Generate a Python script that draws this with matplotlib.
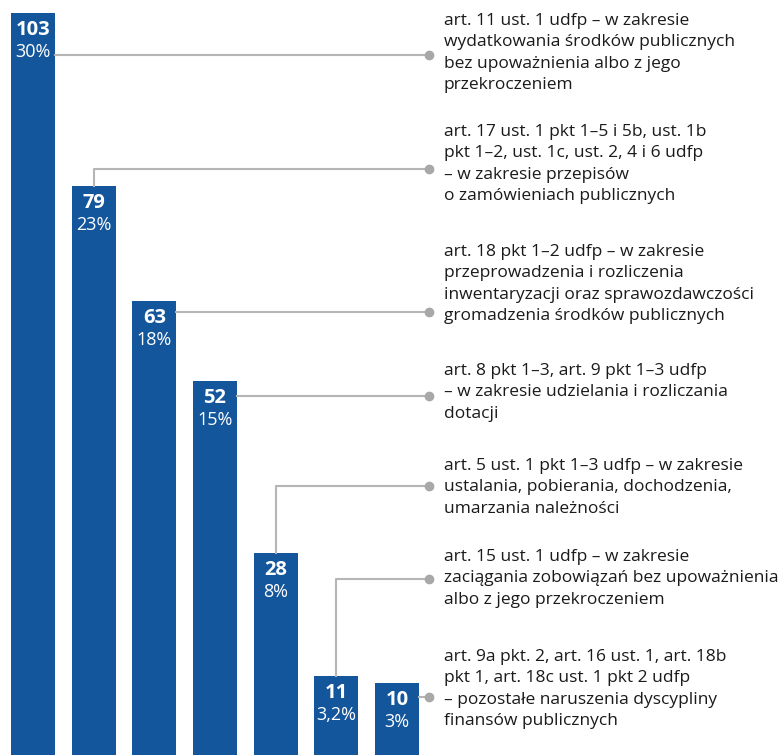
import matplotlib.pyplot as plt
import numpy as np

plt.rcParams['font.family'] = ['Open Sans', 'DejaVu Sans']

# Data
values = [103, 79, 63, 52, 28, 11, 10]
shares = ['30%', '23%', '18%', '15%', '8%', '3,2%', '3%']
labels = [
    'art. 11 ust. 1 udfp – w zakresie\nwydatkowania środków publicznych\nbez upoważnienia albo z jego\nprzekroczeniem',
    'art. 17 ust. 1 pkt 1–5 i 5b, ust. 1b\npkt 1–2, ust. 1c, ust. 2, 4 i 6 udfp\n– w zakresie przepisów\no zamówieniach publicznych',
    'art. 18 pkt 1–2 udfp – w zakresie\nprzeprowadzenia i rozliczenia\ninwentaryzacji oraz sprawozdawczości\ngromadzenia środków publicznych',
    'art. 8 pkt 1–3, art. 9 pkt 1–3 udfp\n– w zakresie udzielania i rozliczania\ndotacji',
    'art. 5 ust. 1 pkt 1–3 udfp – w zakresie\nustalania, pobierania, dochodzenia,\numarzania należności',
    'art. 15 ust. 1 udfp – w zakresie\nzaciągania zobowiązań bez upoważnienia\nalbo z jego przekroczeniem',
    'art. 9a pkt. 2, art. 16 ust. 1, art. 18b\npkt 1, art. 18c ust. 1 pkt 2 udfp\n– pozostałe naruszenia dyscypliny\nfinansów publicznych',
]

# Layout (pixels from top)
W, H = 779, 755
text_top = [13, 124, 244, 363, 458, 549, 649]
dot_y = [55, 169, 312, 396, 486, 579, 697]
dot_x = 429
text_x = 444
bar_color = '#14569b'
line_color = '#b5b5b5'

fig = plt.figure(figsize=(W / 100, H / 100), dpi=100)

# bar axes
ax = fig.add_axes([2.7 / W, 0, 424.6 / W, 1])
ax.set_xlim(-0.5, 6.5)
ax.set_ylim(0, H / 7.2)
x = np.arange(len(values))
bw = 0.725
ax.bar(x, values, width=bw, color=bar_color)
ax.axis('off')

# overlay axes in pixel coordinates (y downwards)
ov = fig.add_axes([0, 0, 1, 1], facecolor='none')
ov.set_xlim(0, W)
ov.set_ylim(H, 0)
ov.axis('off')

to_px = ov.transData.inverted()
for i, v in enumerate(values):
    cx, top = to_px.transform(ax.transData.transform((i, v)))
    right, _ = to_px.transform(ax.transData.transform((i + bw / 2, v)))
    # value and share inside the bar
    ov.text(cx, top + 17, str(v), color='white', fontsize=14.5, fontweight='bold',
            ha='center', va='center')
    ov.text(cx, top + 39, shares[i], color='white', fontsize=13,
            ha='center', va='center')
    # connector
    dy = dot_y[i]
    if dy > top + 5:
        ov.plot([right, dot_x], [dy, dy], color=line_color, lw=1.5, zorder=1)
    else:
        ov.plot([cx, cx, dot_x], [top, dy, dy], color=line_color, lw=1.5, zorder=1)
    ov.plot(dot_x, dy, 'o', color='#a8a8a8', ms=6, zorder=2)
    ov.text(text_x, text_top[i], labels[i], fontsize=12.5, color='#1a1a1a',
            ha='left', va='top', linespacing=1.44)

fig.savefig('out.png', dpi=100)
